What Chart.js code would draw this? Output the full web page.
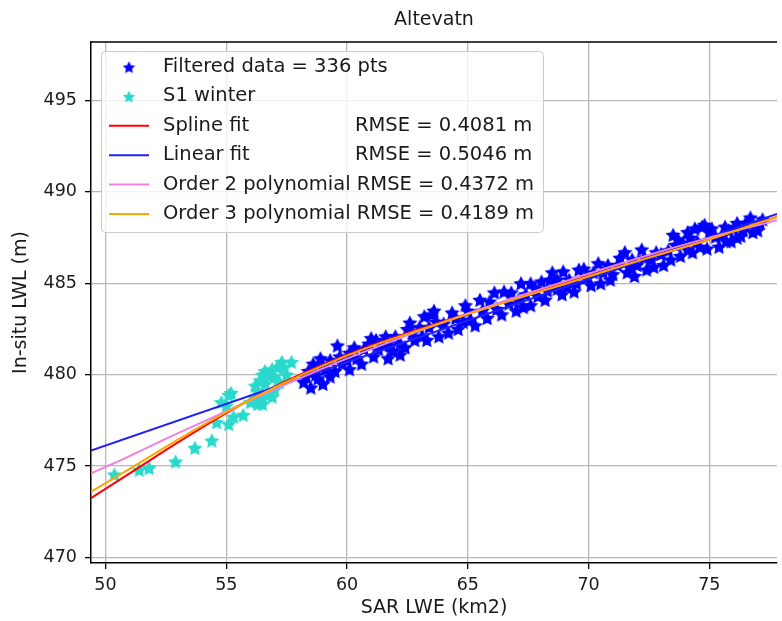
<!DOCTYPE html>
<html>
<head>
<meta charset="utf-8">
<title>Altevatn</title>
<script src="https://cdn.jsdelivr.net/npm/chart.js@4.4.1/dist/chart.umd.min.js"></script>
<style>
  html, body { margin: 0; padding: 0; background: #fff; }
  #wrap { width: 782px; height: 621px; }
</style>
</head>
<body>
<div id="wrap"><canvas id="lwlChart" width="782" height="621"></canvas></div>
<script>
// Filtered data (blue stars)
const filteredX = [58.2, 58.4, 58.5, 58.6, 58.8, 58.9, 59.0, 59.1, 59.3, 59.3, 59.6, 59.8, 60.1, 60.1, 60.4,
    60.7, 61.0, 61.1, 61.3, 61.6, 61.7, 61.9, 62.2, 62.2, 62.5, 62.6, 62.8, 63.1, 63.2, 63.4, 63.5, 63.6,
    63.8, 64.0, 64.35, 64.6, 64.9, 65.1, 65.3, 65.5, 65.8, 66.1, 66.4, 66.5, 66.7, 67.0, 67.2, 67.4, 67.6,
    67.6, 67.9, 68.05, 68.2, 68.5, 68.7, 68.7, 68.95, 69.1, 69.4, 69.6, 69.9, 70.1, 70.4, 70.6, 70.9, 71.2,
    71.5, 71.7, 71.9, 72.2, 72.4, 72.6, 72.8, 73.1, 73.5, 73.6, 73.7, 73.8, 74.1, 74.1, 74.3, 74.5, 74.7,
    74.8, 74.9, 75.25, 75.4, 75.65, 75.9, 76.15, 76.15, 76.4, 76.7, 76.8, 77.1,
    58.3, 58.7, 59.0, 59.5, 59.7, 60.0, 60.3, 60.6, 60.9, 61.2, 61.5, 61.8, 62.0, 62.4, 62.7, 63.0,
    63.3, 63.7, 64.2, 64.5, 64.8, 65.0, 65.6, 65.9, 66.2, 66.8, 67.1, 67.3, 67.8, 68.3, 68.4, 68.9,
    69.2, 69.5, 69.8, 70.2, 70.5, 70.8, 71.0, 71.3, 71.6, 71.8, 72.0, 72.3, 72.7, 73.0, 73.3, 73.4,
    73.9, 74.2, 74.4, 74.6, 75.0, 75.1, 75.5, 75.7, 75.8, 76.0, 76.3, 76.5, 76.9, 77.2, 77.0];
const filteredY = [479.6, 480.2, 479.3, 480.6, 479.8, 480.9, 479.5, 480.3, 480.8, 479.9, 481.6, 480.6, 481.2, 480.3, 480.9,
    481.4, 482.0, 481.0, 481.4, 482.1, 480.9, 481.3, 481.1, 481.7, 482.5, 482.85, 481.9, 482.1, 483.2, 482.6, 483.3, 483.5,
    482.1, 482.8, 483.4, 482.5, 483.8, 483.0, 482.7, 484.1, 483.1, 484.5, 483.3, 484.55, 483.9, 483.5, 485.0, 484.4, 483.8,
    485.0, 484.3, 485.1, 484.1, 485.6, 484.7, 485.2, 485.65, 484.8, 484.55, 485.75, 485.3, 484.9, 486.1, 485.6, 485.2, 486.0,
    486.7, 485.9, 485.4, 486.85, 485.75, 486.3, 486.7, 486.0, 487.65, 487.1, 487.4, 486.5, 487.8, 486.85, 486.7, 487.3, 488.1,
    488.2, 486.9, 487.55, 487.0, 488.1, 487.3, 487.5, 488.3, 487.9, 488.6, 487.8, 488.3,
    479.9, 480.0, 480.5, 480.2, 481.0, 480.8, 481.5, 480.6, 481.7, 481.9, 481.6, 481.6, 482.1, 481.5, 482.3, 482.6,
    481.9, 482.9, 482.3, 483.1, 482.9, 483.5, 483.5, 484.0, 483.6, 484.5, 484.1, 483.7, 484.7, 484.6, 485.2, 484.4,
    485.2, 485.0, 485.8, 485.6, 485.0, 486.0, 485.5, 486.4, 485.6, 486.3, 486.0, 486.4, 485.9, 486.6, 486.8, 486.3,
    487.2, 487.5, 488.0, 487.0, 487.8, 488.0, 487.6, 487.3, 487.9, 488.0, 487.6, 488.3, 488.1, 488.5, 487.9];

// S1 winter (cyan stars)
const winterX = [50.37, 51.4, 51.8, 52.9, 53.7, 54.4, 54.6, 54.8, 55.0, 55.1, 55.1, 55.2, 55.3, 55.7, 56.0,
    56.3, 56.3, 56.4, 56.5, 56.5, 56.6, 56.7, 56.8, 56.9, 56.9, 57.0, 57.2, 57.3, 57.5, 57.7,
    56.2, 56.6, 57.1, 57.4, 56.5, 57.0, 56.2];
const winterY = [474.54, 474.8, 474.9, 475.25, 476.0, 476.4, 477.4, 478.5, 478.3, 478.9, 477.3, 479.0, 477.7, 477.8, 478.5,
    478.4, 479.1, 479.7, 478.4, 480.0, 479.5, 478.9, 479.9, 478.8, 480.3, 479.2, 479.6, 480.7, 480.0, 480.7,
    479.4, 480.2, 480.4, 480.4, 478.7, 479.9, 478.8];

// Fitted curves
const fitX = [49.4, 51, 53, 55, 57, 59, 61, 63, 65, 67, 69, 71, 73, 75, 77.8];
const splineY = [473.25, 474.6, 476.3, 477.9, 479.35, 480.55, 481.6, 482.5, 483.35, 484.2, 485.0, 485.8, 486.6, 487.4, 488.65];
const order3Y = [473.6, 474.85, 476.45, 477.95, 479.3, 480.5, 481.55, 482.45, 483.3, 484.15, 484.95, 485.8, 486.6, 487.4, 488.65];
const order2Y = [474.6, 475.55, 476.8, 478.0, 479.2, 480.35, 481.4, 482.4, 483.35, 484.25, 485.1, 485.95, 486.75, 487.5, 488.45];
const linearX = [49.4, 77.8];
const linearY = [475.85, 488.8];

const xTicks = [50, 55, 60, 65, 70, 75];
const yTicks = [470, 475, 480, 485, 490, 495];

const legendNames = ['Filtered data = 336 pts', 'S1 winter', 'Spline fit', 'Linear fit', 'Order 2 polynomial', 'Order 3 polynomial'];
const legendRmse = ['', '', 'RMSE = 0.4081 m', 'RMSE = 0.5046 m', 'RMSE = 0.4372 m', 'RMSE = 0.4189 m'];

const FONT = "'DejaVu Sans', sans-serif";
const TEXT = '#1a1a1a';

// filled five point star, used as point style
function makeStar(color, size) {
    const c = document.createElement('canvas');
    c.width = size;
    c.height = size;
    const g = c.getContext('2d');
    const r1 = size / 2, r2 = r1 * 0.5;
    g.beginPath();
    for (let i = 0; i < 10; i++) {
        const r = i % 2 === 0 ? r1 : r2;
        const a = -Math.PI / 2 + i * Math.PI / 5;
        g.lineTo(size / 2 + r * Math.cos(a), size / 2 + 0.8 + r * Math.sin(a));
    }
    g.closePath();
    g.fillStyle = color;
    g.fill();
    return c;
}

const blueStar = makeStar('#0000ff', 16);
const cyanStar = makeStar('#2bd9cc', 16);
const legendBlue = makeStar('#0000ff', 13);
const legendCyan = makeStar('#2bd9cc', 13);

const toPts = (xs, ys) => xs.map((x, i) => ({ x: x, y: ys[i] }));

const lineColors = ['#ff0000', '#2020ff', '#f080e0', '#ffa500'];

// title, top spine and in-plot legend
const decorPlugin = {
    id: 'decor',
    afterDatasetsDraw(chart) {
        const ctx = chart.ctx;
        const a = chart.chartArea;
        ctx.save();
        // top spine
        ctx.strokeStyle = '#000';
        ctx.lineWidth = 1.5;
        ctx.beginPath();
        ctx.moveTo(a.left, a.top);
        ctx.lineTo(a.right, a.top);
        ctx.stroke();

        // legend box
        const bx = 101.5, by = 51.5, bw = 442, bh = 181, rad = 4;
        ctx.beginPath();
        ctx.roundRect(bx, by, bw, bh, rad);
        ctx.fillStyle = 'rgba(255,255,255,0.8)';
        ctx.fill();
        ctx.strokeStyle = '#cccccc';
        ctx.lineWidth = 1;
        ctx.stroke();

        ctx.font = '19.5px ' + FONT;
        ctx.fillStyle = TEXT;
        ctx.textBaseline = 'middle';
        const rowY = 67, rowH = 29.4, textX = 163, rmseX = 355;
        legendNames.forEach((name, i) => {
            const y = rowY + i * rowH;
            if (i === 0 || i === 1) {
                const img = i === 0 ? legendBlue : legendCyan;
                ctx.drawImage(img, 129 - img.width / 2, y - img.height / 2);
            } else {
                ctx.strokeStyle = lineColors[i - 2];
                ctx.lineWidth = 2;
                ctx.beginPath();
                ctx.moveTo(109, y);
                ctx.lineTo(149, y);
                ctx.stroke();
            }
            ctx.fillStyle = TEXT;
            ctx.textAlign = 'left';
            ctx.fillText(name, textX, y);
            if (legendRmse[i]) {
                const w = ctx.measureText(name + ' ').width;
                ctx.fillText(legendRmse[i], Math.max(rmseX, textX + w), y);
            }
        });

        // title
        ctx.font = '19px ' + FONT;
        ctx.textAlign = 'center';
        ctx.fillStyle = TEXT;
        ctx.fillText('Altevatn', (a.left + a.right) / 2, 20);
        ctx.restore();
    }
};

const ctx = document.getElementById('lwlChart').getContext('2d');
const lwlChart = new Chart(ctx, {
    type: 'scatter',
    data: {
        datasets: [
            { label: 'Filtered data', data: toPts(filteredX, filteredY), pointStyle: blueStar, order: 6 },
            { label: 'S1 winter', data: toPts(winterX, winterY), pointStyle: cyanStar, order: 5 },
            { label: 'Spline fit', data: toPts(fitX, splineY), showLine: true, borderColor: lineColors[0], borderWidth: 2, pointRadius: 0, order: 4 },
            { label: 'Linear fit', data: toPts(linearX, linearY), showLine: true, borderColor: lineColors[1], borderWidth: 2, pointRadius: 0, order: 3 },
            { label: 'Order 2 polynomial', data: toPts(fitX, order2Y), showLine: true, borderColor: lineColors[2], borderWidth: 2, pointRadius: 0, order: 2 },
            { label: 'Order 3 polynomial', data: toPts(fitX, order3Y), showLine: true, borderColor: lineColors[3], borderWidth: 2, pointRadius: 0, order: 1 }
        ]
    },
    options: {
        responsive: false,
        animation: false,
        devicePixelRatio: 1,
        layout: { padding: { top: 42, right: 0, left: 0, bottom: 0 } },
        elements: { line: { tension: 0.4, cubicInterpolationMode: 'monotone' } },
        plugins: {
            legend: { display: false },
            tooltip: { enabled: false }
        },
        scales: {
            x: {
                type: 'linear',
                min: 49.4,
                max: 77.8,
                afterBuildTicks: (s) => { s.ticks = xTicks.map(v => ({ value: v })); },
                afterFit: (s) => { s.height = 58; },
                ticks: { color: TEXT, font: { family: FONT, size: 17.5 }, padding: 6, maxRotation: 0 },
                grid: { color: '#b8b8b8', lineWidth: 1.3, tickLength: 6, tickColor: '#000', tickWidth: 1.3 },
                border: { color: '#000', width: 1.5 },
                title: { display: true, text: 'SAR LWE (km2)', color: TEXT, font: { family: FONT, size: 19 }, padding: { top: 0, bottom: 2 } }
            },
            y: {
                type: 'linear',
                min: 469.7,
                max: 498.2,
                afterBuildTicks: (s) => { s.ticks = yTicks.map(v => ({ value: v })); },
                afterFit: (s) => { s.width = 91; },
                ticks: { color: TEXT, font: { family: FONT, size: 17.5 }, padding: 8 },
                grid: { color: '#b8b8b8', lineWidth: 1.3, tickLength: 6, tickColor: '#000', tickWidth: 1.3 },
                border: { color: '#000', width: 1.5 },
                title: { display: true, text: 'In-situ LWL (m)', color: TEXT, font: { family: FONT, size: 19 }, padding: { top: 10, bottom: 0 } }
            }
        }
    },
    plugins: [decorPlugin]
});
</script>
</body>
</html>
